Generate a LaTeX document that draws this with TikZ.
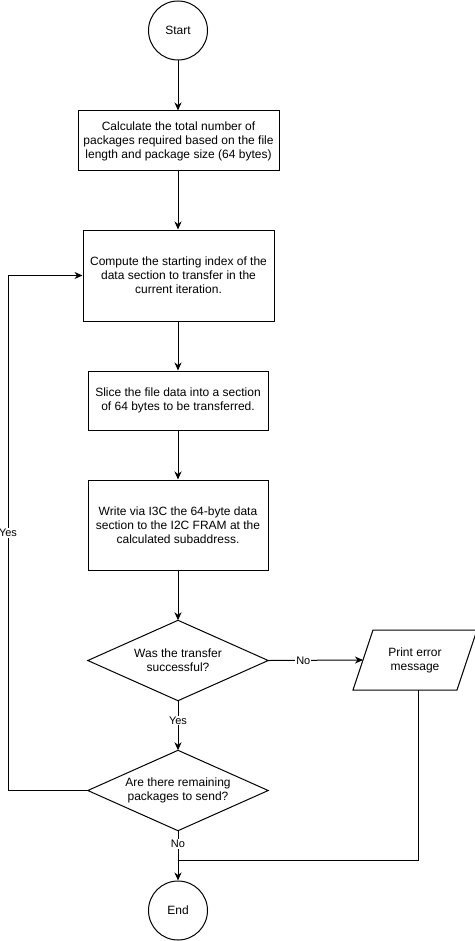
\documentclass[tikz,border=0pt]{standalone}
\usepackage{fontspec}
\setmainfont{Liberation Sans}
\usetikzlibrary{arrows.meta}
\begin{document}
\begin{tikzpicture}[x=1pt,y=-1pt,
  every node/.style={font=\fontsize{12}{14}\selectfont, align=center},
  box/.style={draw, line width=1pt, inner sep=0pt},
  term/.style={draw, circle, line width=1pt, inner sep=0pt, minimum size=59pt},
  hid/.style={inner sep=0pt},
  conn/.style={line width=1pt, -{Stealth[length=8pt,width=7pt,inset=2.5pt]}},
  wire/.style={line width=1pt},
  lbl/.style={fill=white, font=\fontsize{11}{13}\selectfont, inner sep=1pt}]
\useasboundingbox (0,0) rectangle (474,941);
\node[term] (start) at (178,30.5) {Start};
\node[box, minimum width=201pt, minimum height=60pt] (b1) at (178.5,141)
  {Calculate the total number of\\packages required based on the file\\length and package size (64 bytes)};
\node[box, minimum width=191pt, minimum height=91pt] (b2) at (178.5,275.5)
  {Compute the starting index of the\\data section to transfer in the\\current iteration.};
\node[box, minimum width=180pt, minimum height=59pt] (b3) at (178,400.5)
  {Slice the file data into a section\\of 64 bytes to be transferred.};
\node[box, minimum width=180pt, minimum height=90pt] (b4) at (178,525)
  {Write via I3C the 64-byte data\\section to the I2C FRAM at the\\calculated subaddress.};
\node[hid, minimum width=180pt, minimum height=80pt] (d1) at (178,660.5)
  {Was the transfer\\successful?};
\draw[wire] (d1.north) -- (d1.east) -- (d1.south) -- (d1.west) -- cycle;
\node[hid, minimum width=180pt, minimum height=80pt] (d2) at (178,790.5)
  {Are there remaining\\packages to send?};
\draw[wire] (d2.north) -- (d2.east) -- (d2.south) -- (d2.west) -- cycle;
\node[hid, minimum width=104pt, minimum height=60pt] (err) at (415,660)
  {Print error\\message};
\draw[wire] (353,690) -- (457,690) -- (477,630) -- (373,630) -- cycle;
\coordinate (errL) at (363,660);
\coordinate (errB) at (418,690);
\node[term] (end) at (178,910.5) {End};
\coordinate (loopB) at (8,790.5);
\coordinate (loopT) at (8,275.5);
\coordinate (join) at (178,860);

\draw[conn] (start.south) -- (start.south |- b1.north);
\draw[conn] (b1.south -| start.south) -- (start.south |- b2.north);
\draw[conn] (b2.south -| b3.north) -- (b3.north);
\draw[conn] (b3) -- (b4);
\draw[conn] (b4) -- (d1.north);
\draw[conn] (d1.south) -- node[lbl, pos=0.4] {Yes} (d2.north);
\draw[conn] (d1.east) -- node[lbl, pos=0.37] {No} (errL);
\draw[conn] (d2.west) -- (loopB) -- node[lbl] {Yes} (loopT) -- (b2.west);
\draw[conn] (d2.south) -- node[lbl, pos=0.27] {No} (end.north);
\draw[wire] (errB) |- (join);
\end{tikzpicture}
\end{document}
